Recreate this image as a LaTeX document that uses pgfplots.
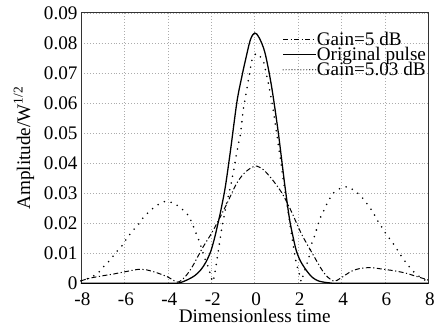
\documentclass[border=0pt]{standalone}
\usepackage{pgfplots}
\pgfplotsset{compat=1.18}
\usepackage{fontspec}
\setmainfont{Liberation Serif}
\begin{document}
\begin{tikzpicture}
\begin{axis}[
  scale only axis,
  width=352bp, height=274bp,
  xmin=-8, xmax=8, ymin=0, ymax=0.09,
  clip=false,
  scaled y ticks=false, scaled x ticks=false,
  xtick={-8,-6,-4,-2,0,2,4,6,8},
  xticklabels={-8,-6,-4,-2,0,2,4,6,8},
  ytick={0,0.01,0.02,0.03,0.04,0.05,0.06,0.07,0.08,0.09},
  yticklabels={0,0.01,0.02,0.03,0.04,0.05,0.06,0.07,0.08,0.09},
  major tick length=0pt,
  font=\fontsize{19.5}{20}\selectfont,
  xticklabel style={yshift=-6bp, xshift=1.5bp},
  yticklabel style={xshift=0bp},
  xlabel={Dimensionless time},
  ylabel={Amplitude/W\textsuperscript{1/2}},
  xlabel style={yshift=3bp},
  ylabel style={yshift=3bp},
  grid=major,
  major grid style={gray!65, line width=0.5bp, dash pattern=on 1bp off 2bp},
  axis line style={black!80, line width=0.9bp},
  legend style={at={(rel axis cs:0.995,0.93)}, anchor=north east, draw=none, fill=none,
    inner sep=0pt, row sep=-0.8bp, nodes={inner sep=0.5bp, anchor=west}},
  legend cell align=left,
  legend image code/.code={\draw[#1] (0bp,0bp) -- (33bp,0bp);},
]
\coordinate (bl) at (rel axis cs:0,0);
\coordinate (tr) at (rel axis cs:1,1);
\addplot[black, line width=1bp, smooth, tension=0.5,
  dash pattern=on 5bp off 2.5bp on 1.2bp off 2.5bp] coordinates {
(-8,0.0008) (-7.6,0.0017) (-7.0,0.0025) (-6.5,0.0031) (-6.0,0.0038) (-5.4,0.0046)
(-5.0,0.0045) (-4.5,0.0035) (-4.0,0.0021) (-3.55,0.0004) (-3.2,0.0022) (-2.86,0.0057)
(-2.4,0.0118) (-2.0,0.0165) (-1.7,0.0205) (-1.3,0.0262) (-0.85,0.0330) (-0.5,0.0365)
(-0.15,0.0385) (0.1,0.0390) (0.4,0.0378) (0.7,0.0355) (0.95,0.0332) (1.3,0.0295)
(1.67,0.0242) (2.15,0.0165) (2.65,0.0100) (3.05,0.0050) (3.3,0.0025) (3.65,0.0007)
(3.95,0.0017) (4.45,0.0040) (4.9,0.0050) (5.4,0.0052) (5.9,0.0047) (6.4,0.0042)
(6.95,0.0034) (7.4,0.0024) (7.86,0.0014) (8,0.0010)
};
\addlegendentry{Gain=5 dB}
\addplot[black, line width=1.3bp, smooth, tension=0.5] coordinates {
(-8,0) (-5,0) (-4,0) (-3.5,0.0001) (-3.09,0.0012) (-2.75,0.0026) (-2.48,0.0045) (-2.25,0.0070)
(-2.03,0.0105) (-1.85,0.0150) (-1.73,0.0187) (-1.6,0.0228) (-1.5,0.0264) (-1.35,0.0322)
(-1.12,0.0439) (-0.82,0.0603) (-0.6,0.0685) (-0.44,0.0738) (-0.2,0.0810) (0,0.0833)
(0.2,0.0818) (0.47,0.0768) (0.77,0.0658) (1.08,0.0505) (1.38,0.0330) (1.6,0.0215)
(1.75,0.0160) (1.91,0.0110) (2.1,0.0075) (2.36,0.0045) (2.65,0.0020) (2.97,0.0007)
(3.5,0.0001) (4,0) (8,0)
};
\addlegendentry{Original pulse}
\addplot[black, line width=1.8bp, line cap=round, dash pattern=on 0bp off 7bp,
  legend image post style={line width=1.2bp, dash pattern=on 0bp off 3bp}] coordinates {
(-8,0.0008) (-7.64,0.0017) (-7.26,0.0030) (-6.95,0.0056) (-6.65,0.0078) (-6.42,0.0100)
(-6.12,0.0124) (-5.9,0.0148) (-5.64,0.0173) (-5.36,0.0195) (-5.12,0.0220) (-4.82,0.0242)
(-4.5,0.0260) (-4.12,0.0273) (-3.73,0.0268) (-3.39,0.0250) (-3.09,0.0229) (-2.9,0.0204)
(-2.75,0.0176) (-2.6,0.0149) (-2.47,0.0122) (-2.33,0.0089) (-2.15,0.0056) (-2.03,0.0028)
(-1.95,0.0005) (-1.88,0.0017) (-1.8,0.0050) (-1.65,0.0120) (-1.5,0.0190) (-1.3,0.0265)
(-1.15,0.0310) (-0.97,0.0374) (-0.82,0.0439) (-0.67,0.0490) (-0.52,0.0580) (-0.36,0.0647)
(-0.14,0.0740) (0.05,0.0765) (0.25,0.0755) (0.42,0.0735) (0.62,0.0669) (0.82,0.0592)
(1.0,0.0505) (1.18,0.0417) (1.3,0.0352) (1.52,0.0248) (1.76,0.0132) (1.91,0.0067)
(2.06,0.0030) (2.14,0.0005) (2.29,0.0040) (2.49,0.0083) (2.6,0.0127) (2.74,0.0154)
(2.88,0.0187) (3.0,0.0215) (3.18,0.0242) (3.36,0.0270) (3.59,0.0299) (3.91,0.0315)
(4.27,0.0322) (4.62,0.0308) (4.92,0.0288) (5.18,0.0264) (5.42,0.0240) (5.64,0.0211)
(6.06,0.0163) (6.33,0.0137) (6.55,0.0113) (6.79,0.0086) (7.05,0.0061) (7.42,0.0030)
(7.65,0.0020) (7.88,0.0009) (8,0.0005)
};
\addlegendentry{Gain=5.03 dB}
\end{axis}
\path (bl) ++(-82bp,-44bp);
\path (tr) ++(4bp,13bp);
\end{tikzpicture}
\end{document}
